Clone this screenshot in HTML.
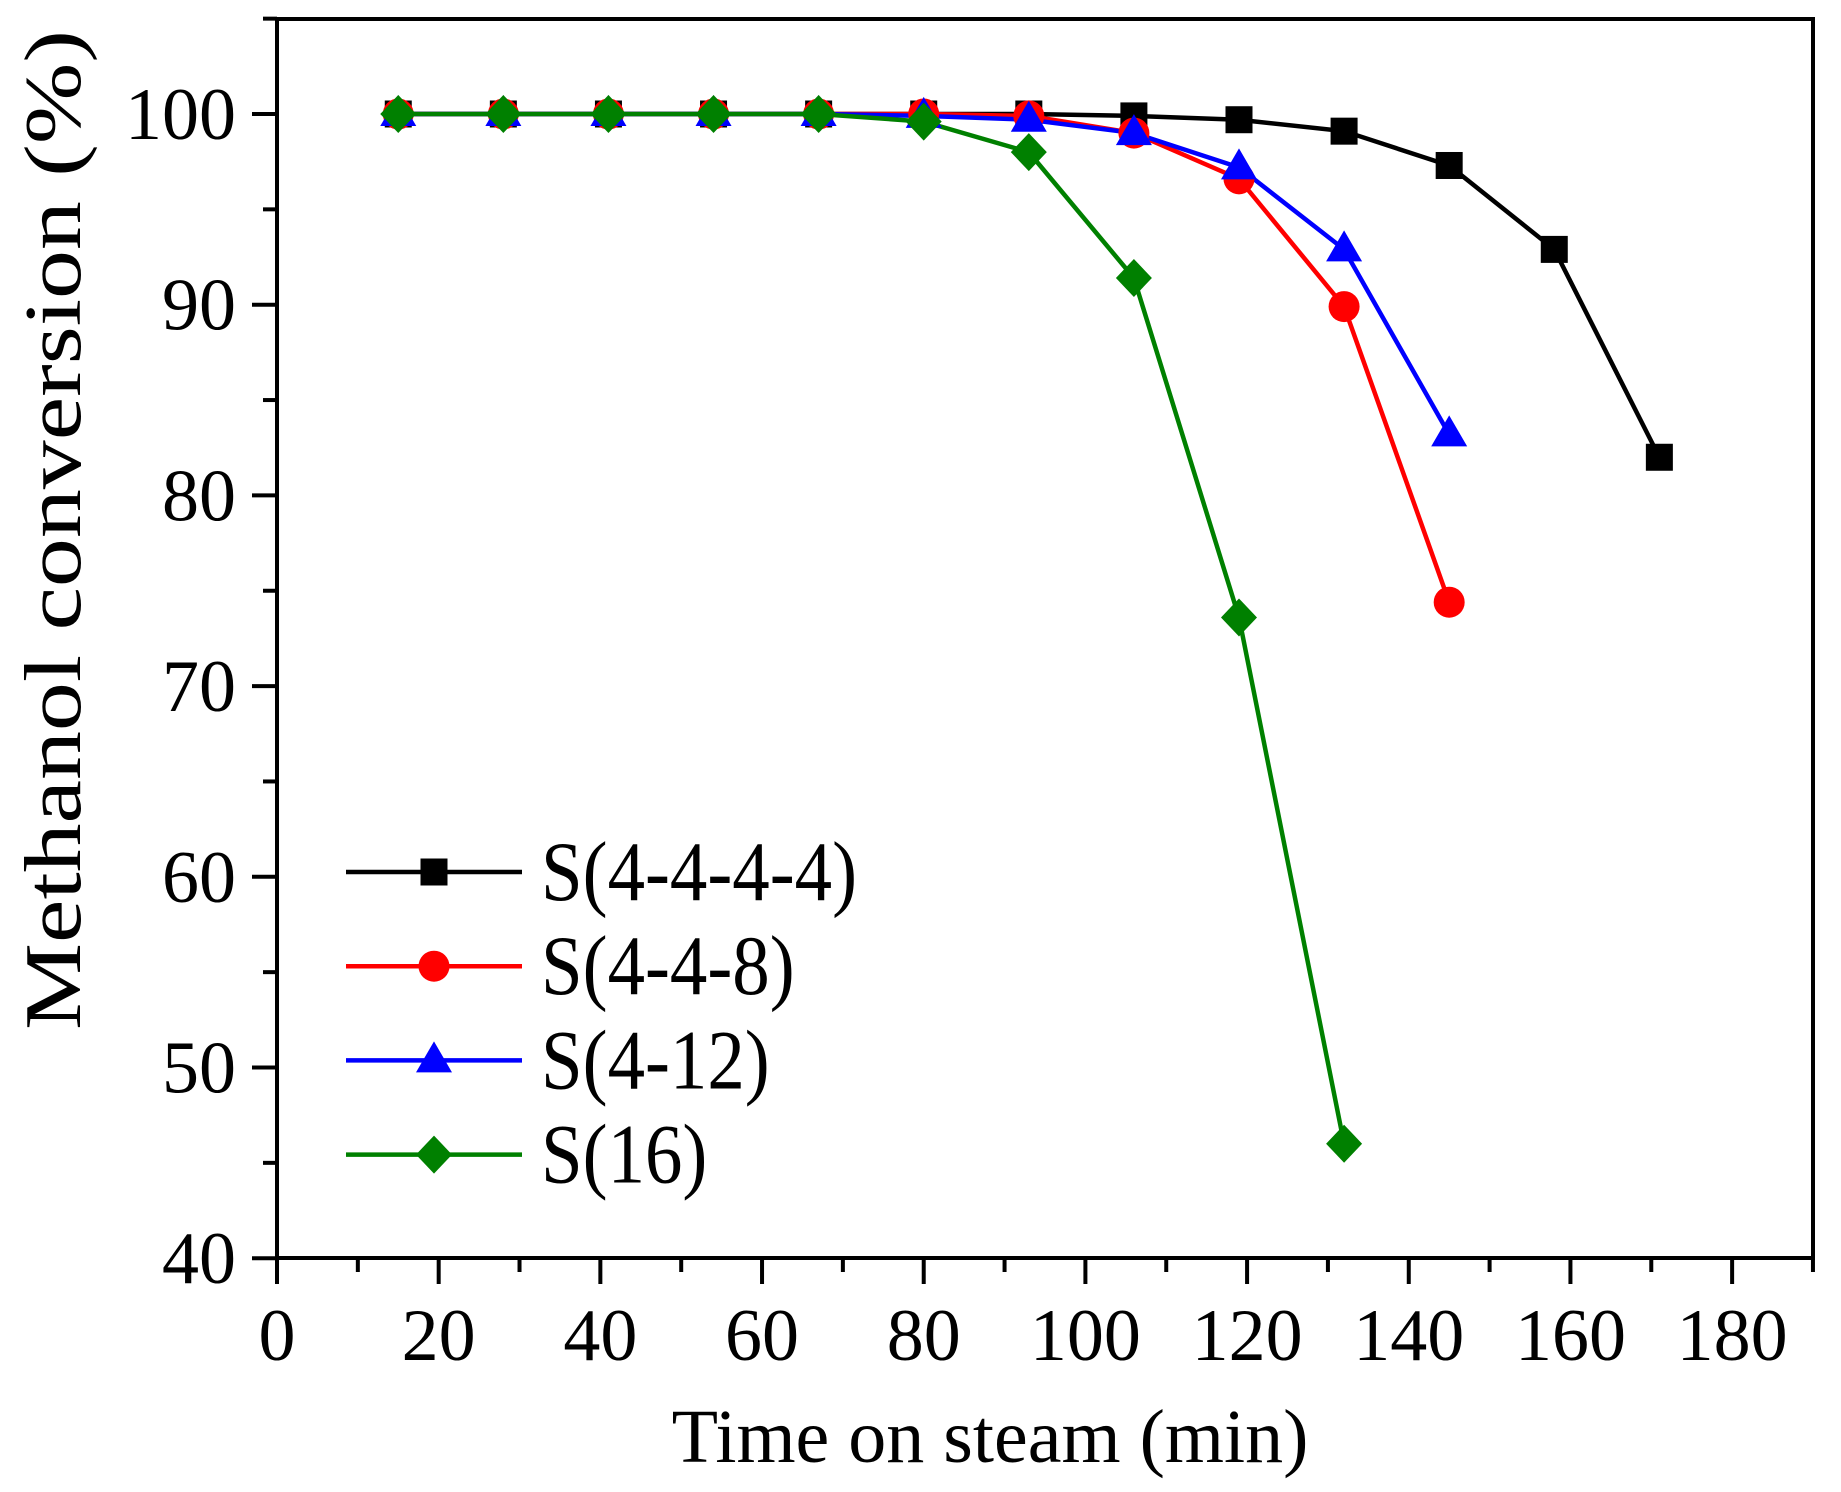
<!DOCTYPE html>
<html><head><meta charset="utf-8"><style>html,body{margin:0;padding:0;background:#fff}</style></head>
<body>
<svg width="1841" height="1487" xmlns="http://www.w3.org/2000/svg" font-family="Liberation Serif, serif">
<rect width="1841" height="1487" fill="#fff"/>
<g stroke="#000" stroke-width="4" fill="none">
<rect x="277" y="19" width="1536" height="1239"/>
</g>
<g stroke="#000" stroke-width="4" id="ticks"></g>
<g font-size="74" text-anchor="end" id="ylab"></g>
<g font-size="74" text-anchor="middle" id="xlab"></g>
<text x="990" y="1462" font-size="76" text-anchor="middle">Time on steam (min)</text>
<text transform="translate(80,530) rotate(-90)" font-size="80" text-anchor="middle" textLength="1000" lengthAdjust="spacingAndGlyphs">Methanol conversion (%)</text>
<g id="series"></g>
<g id="legend"></g>
<script>
const NS="http://www.w3.org/2000/svg";
const X=t=>277+t*8.084, Y=v=>114+(100-v)*19.07;
function el(p,tag,a,txt){const e=document.createElementNS(NS,tag);for(const k in a)e.setAttribute(k,a[k]);if(txt!==undefined)e.textContent=txt;p.appendChild(e);return e;}
const tk=document.getElementById('ticks'),yl=document.getElementById('ylab'),xl=document.getElementById('xlab');
for(let v=40;v<=105;v+=5){const y=Y(v);const maj=v%10==0;el(tk,'line',{x1:277,x2:maj?252:263,y1:y,y2:y});if(maj)el(yl,'text',{x:236,y:y+25},v);}
for(let t=0;t<=190;t+=10){const x=X(t);const maj=t%20==0;el(tk,'line',{x1:x,x2:x,y1:1258,y2:maj?1284:1272});if(maj)el(xl,'text',{x:x,y:1360},t);}
const T=[15,28,41,54,67,80,93,106,119,132,145,158,171];
const S=[
{c:'#000',m:'sq',d:[100,100,100,100,100,100,100,99.9,99.7,99.1,97.3,92.9,82.0]},
{c:'#ff0000',m:'ci',d:[100,100,100,100,100,100,99.9,99.0,96.6,89.9,74.4]},
{c:'#0000ff',m:'tr',d:[100,100,100,100,100,99.9,99.7,99.0,97.2,92.9,83.2]},
{c:'#008000',m:'di',d:[100,100,100,100,100,99.6,98.0,91.4,73.6,46.0]}];
function mk(p,m,x,y,c){
 if(m=='sq')el(p,'rect',{x:x-13.5,y:y-13.5,width:27,height:27,fill:c});
 else if(m=='ci')el(p,'circle',{cx:x,cy:y,r:15.5,fill:c});
 else if(m=='tr')el(p,'polygon',{points:`${x},${y-19} ${x-18},${y+12} ${x+18},${y+12}`,fill:c});
 else el(p,'polygon',{points:`${x},${y-19} ${x+18},${y} ${x},${y+19} ${x-18},${y}`,fill:c});
}
const sg=document.getElementById('series');
S.forEach(s=>{const pts=s.d.map((v,i)=>X(T[i])+','+Y(v)).join(' ');el(sg,'polyline',{points:pts,fill:'none',stroke:s.c,'stroke-width':4.5});});
S.forEach(s=>{s.d.forEach((v,i)=>mk(sg,s.m,X(T[i]),Y(v),s.c));});
const lg=document.getElementById('legend');const names=['S(4-4-4-4)','S(4-4-8)','S(4-12)','S(16)'];
S.forEach((s,i)=>{const y=872+i*94.2;el(lg,'line',{x1:346,x2:522,y1:y,y2:y,stroke:s.c,'stroke-width':4.5});mk(lg,s.m,434,y,s.c);el(lg,'text',{x:541,y:y+28,'font-size':78,transform:`translate(541,${y+28}) scale(0.96,1.08) translate(-541,${-(y+28)})`},names[i]);});
</script>
</svg>
</body></html>
